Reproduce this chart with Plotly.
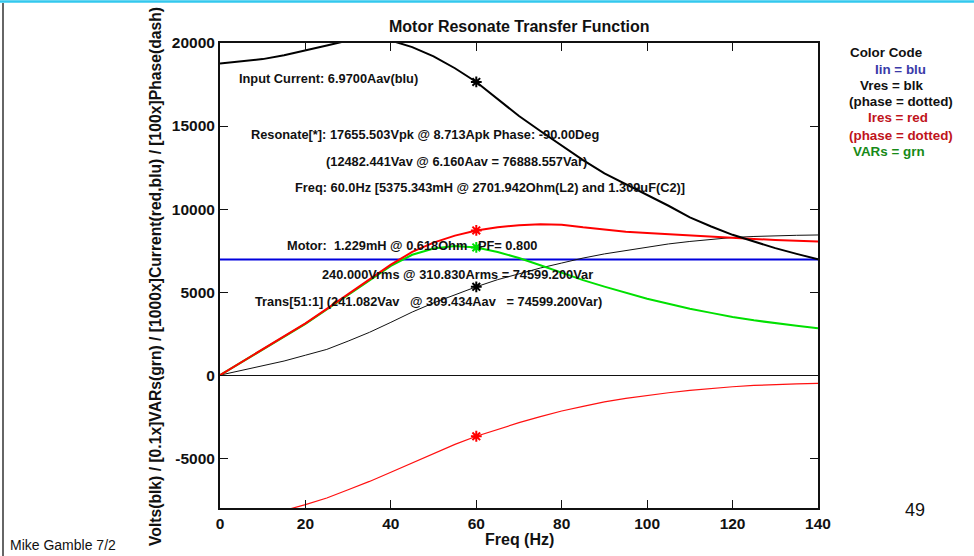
import plotly.graph_objects as go

# ---------------- data ----------------
freq = [0, 5, 10, 15, 20, 25, 30, 35, 40, 45, 50, 55, 60, 65, 70, 75, 80, 85, 90,
        95, 100, 105, 110, 115, 120, 125, 130, 135, 140]
v_res = [18760, 18880, 19030, 19260, 19540, 19850, 20150, 20300, 20150, 19750, 19200,
         18480, 17655, 16650, 15600, 14700, 13800, 12950, 12150, 11500, 10900, 10200,
         9500, 8950, 8450, 8050, 7650, 7300, 6970]
i_res = [0, 770, 1540, 2300, 3120, 3990, 4870, 5780, 6650, 7420, 7980, 8400, 8713,
         8900, 9030, 9090, 9060, 8900, 8750, 8640, 8560, 8480, 8410, 8340, 8270, 8200,
         8140, 8090, 8050]
vars_ = [0, 760, 1520, 2280, 3090, 3950, 4830, 5720, 6580, 7250, 7620, 7780, 7689,
         7420, 7050, 6620, 6150, 5720, 5330, 4950, 4600, 4300, 4000, 3750, 3500, 3300,
         3120, 2970, 2820]
v_phase = [0, 280, 560, 850, 1200, 1550, 2050, 2580, 3180, 3800, 4350, 4850, 5320,
           5750, 6120, 6450, 6750, 7050, 7300, 7500, 7680, 7900, 8050, 8180, 8290, 8350,
           8400, 8420, 8440]
freq_ip = [10, 15, 20, 25, 30, 35, 40, 45, 50, 55, 60, 65, 70, 75, 80, 85, 90, 95, 100,
           105, 110, 115, 120, 125, 130, 135, 140]
i_phase = [-8700, -8150, -7800, -7400, -6900, -6400, -5850, -5280, -4720, -4170, -3680,
           -3250, -2860, -2500, -2160, -1880, -1610, -1400, -1220, -1060, -920, -800,
           -700, -620, -560, -520, -490]
i_in = 6970
res_f = 60

x_ticks = [0, 20, 40, 60, 80, 100, 120, 140]
y_ticks = [-5000, 0, 5000, 10000, 15000, 20000]
y_tick_labels = ["-5000", "0", "5000", "10000", "15000", "20000"]

info_lines = [
    "Input Current: 6.9700Aav(blu)",
    "Resonate[*]: 17655.503Vpk @ 8.713Apk Phase: -90.00Deg",
    "(12482.441Vav @ 6.160Aav = 76888.557Var)",
    "Freq: 60.0Hz [5375.343mH @ 2701.942Ohm(L2) and 1.309uF(C2)]",
    "Motor:  1.229mH @ 0.618Ohm   PF= 0.800",
    "240.000Vrms @ 310.830Arms = 74599.200Var",
    "Trans[51:1] (241.082Vav   @ 309.434Aav   = 74599.200Var)",
]
legend_lines = ["Color Code", "Iin = blu", "Vres = blk", "(phase = dotted)",
                "Ires = red", "(phase = dotted)", "VARs = grn"]

# ---------------- layout geometry ----------------
W, H = 974, 556
L, R, T, B = 220, 818, 43, 508
PW, PH = R - L, B - T
FONT = "Liberation Sans, Arial, sans-serif"


def px(x):
    return (x - L) / PW


def py(y):
    return (B - y) / PH


fig = go.Figure()


def idx(f):
    return freq.index(f)


fig.add_trace(go.Scatter(x=[freq[0], freq[-1]], y=[i_in, i_in], mode="lines",
                         line=dict(color="#0000dd", width=2), hoverinfo="skip"))
fig.add_trace(go.Scatter(x=freq, y=v_phase, mode="lines",
                         line=dict(color="#111111", width=1), hoverinfo="skip"))
fig.add_trace(go.Scatter(x=freq_ip, y=i_phase, mode="lines",
                         line=dict(color="#ff1010", width=1.2), hoverinfo="skip"))
fig.add_trace(go.Scatter(x=freq, y=vars_, mode="lines",
                         line=dict(color="#00e000", width=2), hoverinfo="skip"))
fig.add_trace(go.Scatter(x=freq, y=i_res, mode="lines",
                         line=dict(color="#ff0000", width=2), hoverinfo="skip"))
fig.add_trace(go.Scatter(x=freq, y=v_res, mode="lines",
                         line=dict(color="#000000", width=2), hoverinfo="skip"))

# resonance markers
mk = [(v_res[idx(res_f)], "#000000"), (i_res[idx(res_f)], "#ff0000"),
      (vars_[idx(res_f)], "#00e000"), (v_phase[idx(res_f)], "#000000"),
      (i_phase[freq_ip.index(res_f)], "#ff0000")]
for yv, c in mk:
    fig.add_trace(go.Scatter(x=[res_f], y=[yv], mode="markers",
                             marker=dict(symbol="asterisk-open", size=9, color=c,
                                         line=dict(color=c, width=2)),
                             hoverinfo="skip"))

ann = []
info_pos = [(237, 78), (249, 134), (324, 161), (293, 188), (285, 246), (320, 274),
            (253, 301)]
for t, (x, y) in zip(info_lines, info_pos):
    t2 = t.replace("   ", "\u00a0\u00a0\u00a0").replace("  ", "\u00a0\u00a0")
    ann.append(dict(text=t2, xref="paper", yref="paper", x=px(x), y=py(y),
                    xanchor="left", yanchor="middle", showarrow=False,
                    font=dict(family=FONT, size=12.8, color="#111111", weight="bold")))

leg_pos = [(848, 53), (873, 69), (858, 85), (847, 101), (866, 118), (847, 135),
           (851, 151)]
leg_col = ["#111111", "#3a3aa8", "#111111", "#111111", "#c0141c", "#c0141c", "#178a17"]
for t, (x, y), c in zip(legend_lines, leg_pos, leg_col):
    ann.append(dict(text=t, xref="paper", yref="paper", x=px(x), y=py(y),
                    xanchor="left", yanchor="middle", showarrow=False,
                    font=dict(family=FONT, size=13.4, color=c, weight="bold")))

# titles
ann.append(dict(text="Motor Resonate Transfer Function", xref="paper", yref="paper",
                x=0.5, y=py(27), xanchor="center", yanchor="middle", showarrow=False,
                font=dict(family=FONT, size=16, color="#111111", weight="bold")))
ann.append(dict(text="Freq (Hz)", xref="paper", yref="paper",
                x=0.5, y=py(539), xanchor="center", yanchor="middle", showarrow=False,
                font=dict(family=FONT, size=16, color="#111111", weight="bold")))
ann.append(dict(text="Volts(blk) / [0.1x]VARs(grn) / [1000x]Current(red,blu) / [100x]Phase(dash)",
                xref="paper", yref="paper", x=px(155), y=py(277), textangle=-90,
                xanchor="center", yanchor="middle", showarrow=False,
                font=dict(family=FONT, size=15.7, color="#111111", weight="bold")))
ann.append(dict(text="49", xref="paper", yref="paper", x=px(915), y=py(510),
                xanchor="center", yanchor="middle", showarrow=False,
                font=dict(family=FONT, size=18, color="#111111")))
ann.append(dict(text="Mike Gamble 7/2", xref="paper", yref="paper", x=px(8), y=py(545),
                xanchor="left", yanchor="middle", showarrow=False,
                font=dict(family=FONT, size=14, color="#111111")))

shapes = [
    dict(type="line", xref="paper", yref="paper", x0=px(0), x1=px(W), y0=py(1.5),
         y1=py(1.5), line=dict(color="#33c8ee", width=2.5)),
    dict(type="line", xref="paper", yref="paper", x0=px(3), x1=px(3), y0=py(3), y1=py(H),
         line=dict(color="#333333", width=1.5)),
]

axis_common = dict(showline=True, linecolor="#111111", linewidth=2, mirror="ticks",
                   ticks="inside", ticklen=8, tickwidth=1, tickcolor="#111111",
                   showgrid=False,
                   tickfont=dict(family=FONT, size=15.5, color="#111111", weight="bold"))

fig.update_layout(
    width=W, height=H, showlegend=False,
    paper_bgcolor="white", plot_bgcolor="white",
    margin=dict(l=L, r=W - R, t=T, b=H - B, pad=0),
    xaxis=dict(range=[0, 140], tickvals=x_ticks, **axis_common),
    yaxis=dict(range=[-8000, 20000], tickvals=y_ticks, ticktext=y_tick_labels,
               zeroline=True, zerolinecolor="#111111", zerolinewidth=1, **axis_common),
    annotations=ann, shapes=shapes,
)

fig.write_html("out.html", config={"displayModeBar": False},
               post_script="document.body.style.margin='0';document.body.style.overflow='hidden';")
